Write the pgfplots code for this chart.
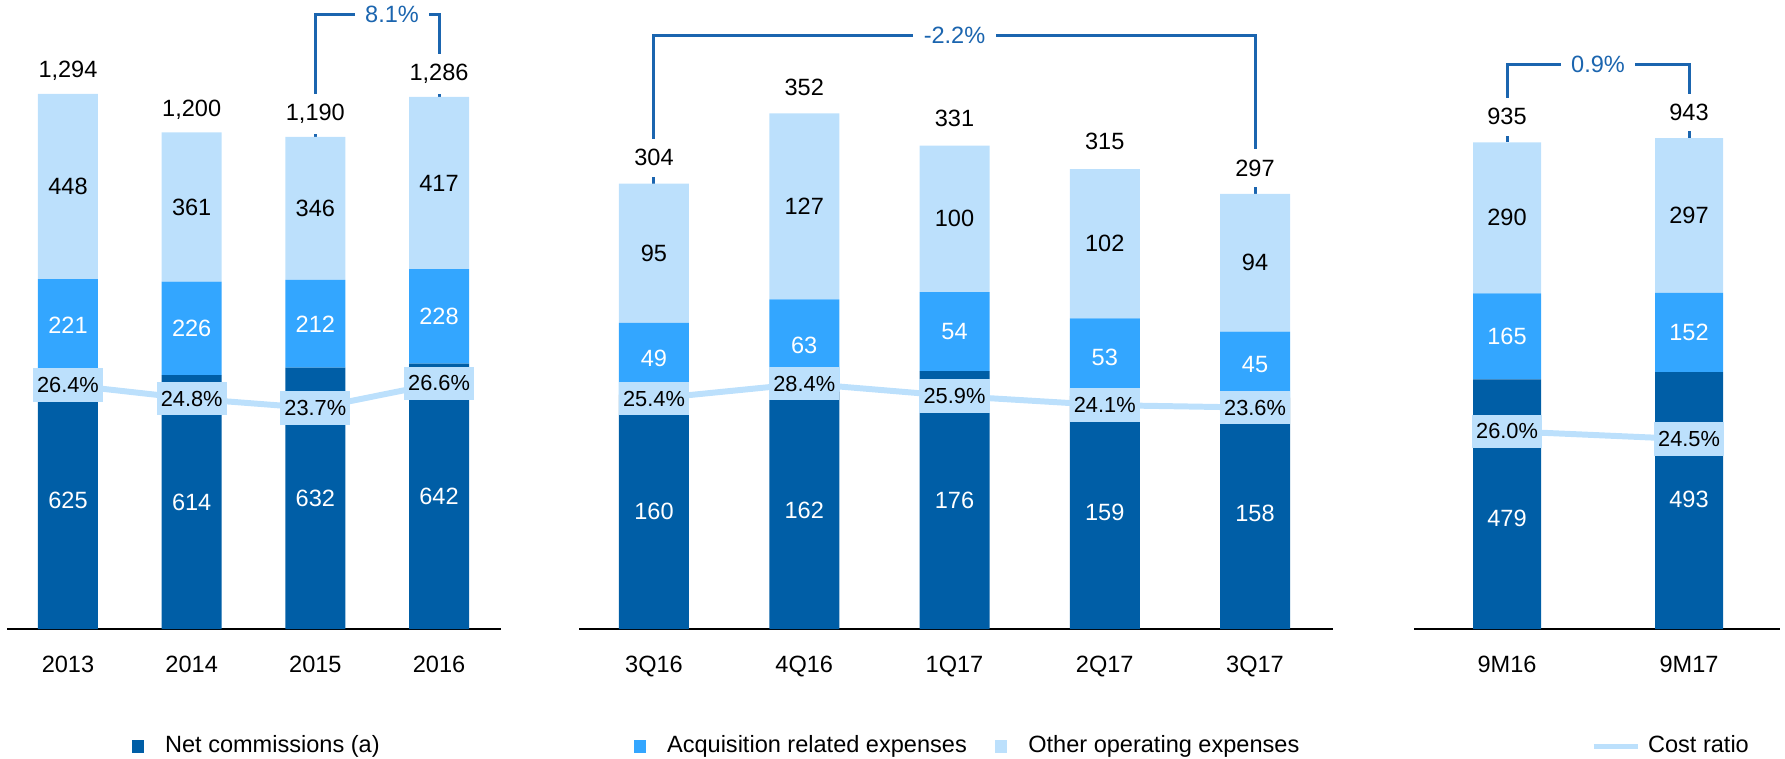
\documentclass[border=0pt]{standalone}
\usepackage{pgfplots}
\pgfplotsset{compat=1.18}
\usepackage{pgfplotstable}
\usepackage{fontspec}
\setmainfont{Liberation Sans}
\pgfkeys{/pgf/number format/assume math mode=true}

\definecolor{ncc}{HTML}{005EA6}
\definecolor{arec}{HTML}{33A6FF}
\definecolor{ooec}{HTML}{BCE0FC}
\definecolor{brc}{HTML}{1B65AF}

\newcommand{\fs}{\fontsize{6.7}{8}\selectfont}
\newcommand{\fsr}{\fontsize{6.2}{7.4}\selectfont}

% x nc are ooe total ncpos ratio
\pgfplotstableread{
x nc are ooe total ncpos ratio
0 625 221 448 1294 312 26.4
1 614 226 361 1200 307 24.8
2 632 212 346 1190 316 23.7
3 642 228 417 1286 321 26.6
}\yearly
\pgfplotstableread{
x nc are ooe total ncpos ratio
0 160 49 95 304 80 25.4
1 162 63 127 352 81 28.4
2 176 54 100 331 88 25.9
3 159 53 102 315 79.5 24.1
4 158 45 94 297 79 23.6
}\quarterly
\pgfplotstableread{
x nc are ooe total ncpos ratio
0 479 165 290 935 212 26.0
1 493 152 297 943 248 24.5
}\ninemonths

\tikzset{brl/.style={fill=white, text=brc, font=\fs, inner xsep=3pt, inner ysep=1.5pt}}

\pgfplotsset{
  panel/.style={scale only axis, height=6.29cm, ymin=0, clip=false, enlargelimits=false, anchor=south west},
  bars/.style={panel, ybar stacked, axis x line*=bottom, hide y axis,
    x axis line style={-, line width=0.6pt, black},
    xtick style={draw=none}, major tick length=0pt,
    xticklabel style={font=\fs, text=black, yshift=-4.2pt}},
  ovl/.style={panel, hide axis,
    legend style={draw=none, fill=none, inner sep=0pt, font=\fs, anchor=west,
      /tikz/every even column/.append style={column sep=6pt}},
    legend cell align=left},
  lbl/.style={draw=none, mark=none, nodes near coords, point meta=explicit,
    nodes near coords style={anchor=center, font=\fs, text=#1}},
  tot/.style={draw=none, mark=none, nodes near coords, point meta=explicit,
    nodes near coords style={anchor=center, font=\fs, text=black, fill=white,
      inner xsep=1pt, inner ysep=3pt, yshift=#1}},
  ratio/.style={color=ooec, line width=1.7pt, mark=none, point meta=y,
    nodes near coords={\pgfmathprintnumber[fixed,fixed zerofill,precision=1]{\pgfplotspointmeta}\%},
    nodes near coords style={anchor=center, font=\fsr, text=black, fill=ooec,
      inner xsep=1.2pt, inner ysep=0pt, minimum height=9.5pt}},
  sqleg/.style={legend image code/.code={\fill[##1, draw=none] (0pt,-1.75pt) rectangle (3.5pt,1.75pt); \path[draw=none, fill=none] (0pt,0pt) -- (7.5pt,0pt);}},
}

\begin{document}
\begin{tikzpicture}
\useasboundingbox (0,0) rectangle (17.85,7.58);

% ---- panel 1: years
\begin{axis}[bars, at={(0.07cm,1.29cm)}, width=4.94cm, xmin=-0.493, xmax=3.501, ymax=1521,
  bar width=0.6cm, xtick={0,1,2,3}, xticklabels={2013,2014,2015,2016}]
\addplot[fill=ncc, draw=none] table[x=x, y=nc] {\yearly};
\addplot[fill=arec, draw=none] table[x=x, y=are] {\yearly};
\addplot[fill=ooec, draw=none] table[x=x, y=ooe] {\yearly};
\draw[brc, line width=0.85pt] (axis cs:2,1190) |- (axis cs:3,1487) -- (axis cs:3,1286);
\end{axis}
\begin{axis}[ovl, at={(0.07cm,1.29cm)}, width=4.94cm, xmin=-0.493, xmax=3.501, ymax=1521,
  legend style={at={(0.251,-0.187)}}]
\addlegendimage{sqleg, fill=ncc}
\addplot[lbl=white] table[x=x, y=ncpos, meta=nc] {\yearly};
\addplot[lbl=white] table[x=x, y expr=\thisrow{nc}+0.5*\thisrow{are}, meta=are] {\yearly};
\addplot[lbl=black] table[x=x, y expr=\thisrow{nc}+\thisrow{are}+0.5*\thisrow{ooe}, meta=ooe] {\yearly};
\addplot[tot=0.23cm] table[x=x, y=total, meta=total] {\yearly};
\node[brl] at (axis cs:2.62,1487) {8.1\%};
\legend{Net commissions (a)}
\end{axis}
\begin{axis}[ovl, at={(0.07cm,1.29cm)}, width=4.94cm, xmin=-0.493, xmax=3.501, ymin=-1.977, ymax=71.16]
\addplot[ratio] table[x=x, y=ratio] {\yearly};
\end{axis}

% ---- panel 2: quarters
\begin{axis}[bars, at={(5.79cm,1.29cm)}, width=7.54cm, xmin=-0.499, xmax=4.519, ymax=429.4,
  bar width=0.7cm, xtick={0,1,2,3,4}, xticklabels={3Q16,4Q16,1Q17,2Q17,3Q17}]
\addplot[fill=ncc, draw=none] table[x=x, y=nc] {\quarterly};
\addplot[fill=arec, draw=none] table[x=x, y=are] {\quarterly};
\addplot[fill=ooec, draw=none] table[x=x, y=ooe] {\quarterly};
\draw[brc, line width=0.85pt] (axis cs:0,304) |- (axis cs:4,405.5) -- (axis cs:4,297);
\end{axis}
\begin{axis}[ovl, at={(5.79cm,1.29cm)}, width=7.54cm, xmin=-0.499, xmax=4.519, ymax=429.4,
  legend columns=-1, legend style={at={(0.0716,-0.187)}}]
\addlegendimage{sqleg, fill=arec}
\addlegendimage{sqleg, fill=ooec}
\addplot[lbl=white] table[x=x, y=ncpos, meta=nc] {\quarterly};
\addplot[lbl=white] table[x=x, y expr=\thisrow{nc}+0.5*\thisrow{are}, meta=are] {\quarterly};
\addplot[lbl=black] table[x=x, y expr=\thisrow{nc}+\thisrow{are}+0.5*\thisrow{ooe}, meta=ooe] {\quarterly};
\addplot[tot=0.26cm] table[x=x, y=total, meta=total] {\quarterly};
\node[brl] at (axis cs:2,405.5) {-2.2\%};
\legend{Acquisition related expenses, Other operating expenses}
\end{axis}
\begin{axis}[ovl, at={(5.79cm,1.29cm)}, width=7.54cm, xmin=-0.499, xmax=4.519, ymin=-20.68, ymax=105.12]
\addplot[ratio] table[x=x, y=ratio] {\quarterly};
\end{axis}

% ---- panel 3: nine months
\begin{axis}[bars, at={(14.14cm,1.29cm)}, width=3.66cm, xmin=-0.511, xmax=1.5, ymax=1207,
  bar width=0.68cm, xtick={0,1}, xticklabels={9M16,9M17}]
\addplot[fill=ncc, draw=none] table[x=x, y=nc] {\ninemonths};
\addplot[fill=arec, draw=none] table[x=x, y=are] {\ninemonths};
\addplot[fill=ooec, draw=none] table[x=x, y=ooe] {\ninemonths};
\draw[brc, line width=0.85pt] (axis cs:0,935) |- (axis cs:1,1084) -- (axis cs:1,943);
\end{axis}
\begin{axis}[ovl, at={(14.14cm,1.29cm)}, width=3.66cm, xmin=-0.511, xmax=1.5, ymax=1207]
\addplot[lbl=white] table[x=x, y=ncpos, meta=nc] {\ninemonths};
\addplot[lbl=white] table[x=x, y expr=\thisrow{nc}+0.5*\thisrow{are}, meta=are] {\ninemonths};
\addplot[lbl=black] table[x=x, y expr=\thisrow{nc}+\thisrow{are}+0.5*\thisrow{ooe}, meta=ooe] {\ninemonths};
\addplot[tot=0.25cm] table[x=x, y=total, meta=total] {\ninemonths};
\node[brl] at (axis cs:0.5,1084) {0.9\%};
\end{axis}
\begin{axis}[ovl, at={(14.14cm,1.29cm)}, width=3.66cm, xmin=-0.511, xmax=1.5, ymin=-11.32, ymax=107.36,
  legend style={at={(0.482,-0.187)}},
  legend image code/.code={\draw[#1, line width=1.4pt] (0pt,0pt) -- (12.5pt,0pt); \path[draw=none] (0pt,0pt) -- (13.5pt,0pt);}]
\addplot[ratio] table[x=x, y=ratio] {\ninemonths};
\legend{Cost ratio}
\end{axis}
\end{tikzpicture}
\end{document}
